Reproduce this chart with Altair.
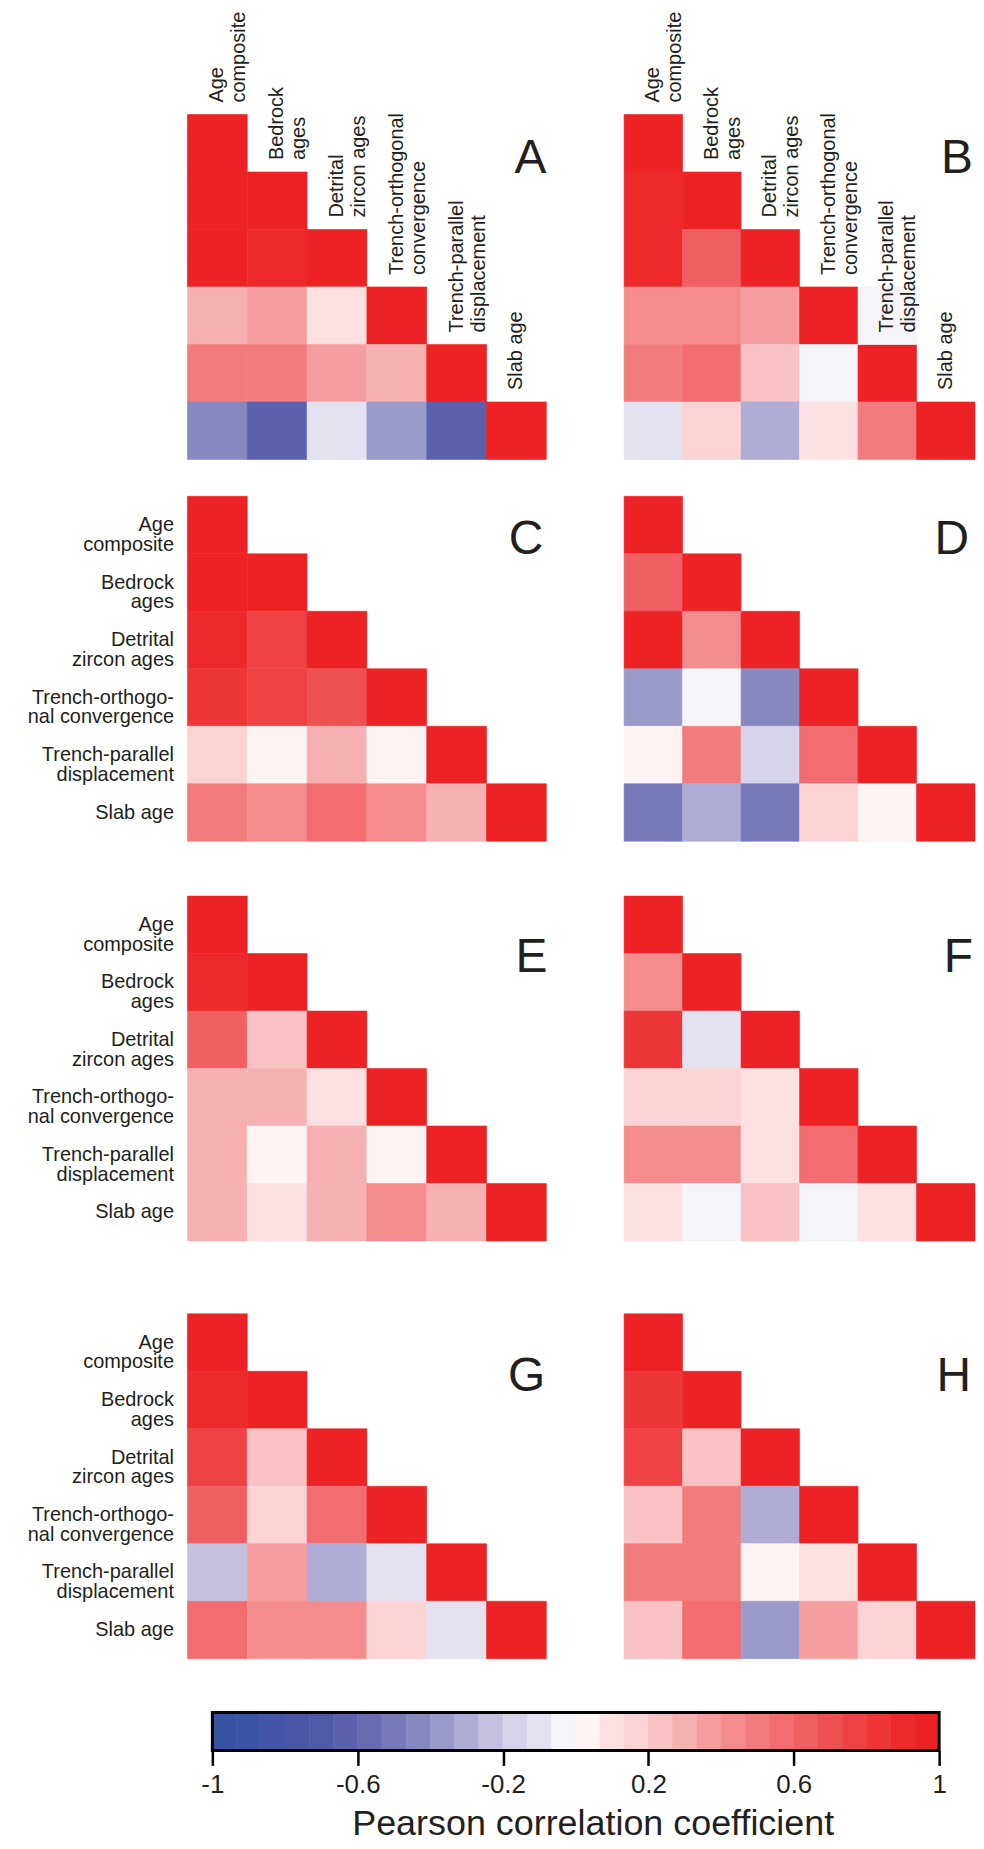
import altair as alt
import numpy as np
import pandas as pd

FONT = "Liberation Sans"
INK = "#231f20"

# ---------------- data ----------------
row_labels = ["Age\ncomposite", "Bedrock\nages", "Detrital\nzircon ages",
              "Trench-orthogo-\nnal convergence", "Trench-parallel\ndisplacement", "Slab age"]
col_labels = ["Age\ncomposite", "Bedrock\nages", "Detrital\nzircon ages",
              "Trench-orthogonal\nconvergence", "Trench-parallel\ndisplacement", "Slab age"]

panel_A = [[1.0],
           [0.97, 1.0],
           [0.97, 0.90, 1.0],
           [0.30, 0.37, 0.10, 1.0],
           [0.50, 0.50, 0.37, 0.30, 1.0],
           [-0.43, -0.63, -0.10, -0.37, -0.63, 1.0]]
panel_B = [[1.0],
           [0.90, 1.0],
           [0.90, 0.63, 1.0],
           [0.43, 0.43, 0.37, 1.0],
           [0.50, 0.57, 0.23, -0.03, 1.0],
           [-0.10, 0.17, -0.30, 0.10, 0.50, 1.0]]
panel_B_extra = [(3, 4, -0.03)]
panel_C = [[1.0],
           [0.97, 1.0],
           [0.90, 0.77, 1.0],
           [0.83, 0.77, 0.70, 1.0],
           [0.17, 0.03, 0.30, 0.03, 1.0],
           [0.50, 0.43, 0.57, 0.43, 0.30, 1.0]]
panel_D = [[1.0],
           [0.63, 1.0],
           [0.97, 0.43, 1.0],
           [-0.37, -0.03, -0.43, 1.0],
           [0.03, 0.50, -0.17, 0.57, 1.0],
           [-0.50, -0.30, -0.50, 0.17, 0.03, 1.0]]
panel_E = [[1.0],
           [0.90, 1.0],
           [0.63, 0.23, 1.0],
           [0.30, 0.30, 0.10, 1.0],
           [0.30, 0.03, 0.30, 0.03, 1.0],
           [0.30, 0.10, 0.30, 0.43, 0.30, 1.0]]
panel_F = [[1.0],
           [0.43, 1.0],
           [0.83, -0.10, 1.0],
           [0.17, 0.17, 0.10, 1.0],
           [0.43, 0.43, 0.10, 0.57, 1.0],
           [0.10, -0.03, 0.23, -0.03, 0.10, 1.0]]
panel_G = [[1.0],
           [0.90, 1.0],
           [0.77, 0.23, 1.0],
           [0.63, 0.17, 0.57, 1.0],
           [-0.23, 0.37, -0.30, -0.10, 1.0],
           [0.57, 0.43, 0.43, 0.17, -0.10, 1.0]]
panel_H = [[1.0],
           [0.83, 1.0],
           [0.77, 0.23, 1.0],
           [0.23, 0.50, -0.30, 1.0],
           [0.50, 0.50, 0.03, 0.10, 1.0],
           [0.23, 0.57, -0.37, 0.37, 0.17, 1.0]]

palette_blue = ["#3953a4", "#3c54a5", "#4255a6", "#4a57a7", "#5159a9", "#5b61ad",
                "#696bb2", "#7879b9", "#8888c1", "#9b9bcb", "#afadd5", "#c3c1df",
                "#d6d4ea", "#e4e2f0", "#f4f4f9"]
palette_red = ["#fef4f3", "#fde0e1", "#fbd3d4", "#f9c2c3", "#f7b0b1", "#f59d9f",
               "#f48c8e", "#f27b7d", "#f16d6f", "#f05f61", "#ef5052", "#ee4244",
               "#ee3537", "#ed292b", "#ed2224"]
palette = palette_blue + palette_red

legend_ticks = [-1, -0.6, -0.2, 0.2, 0.6, 1]
legend_title = "Pearson correlation coefficient"

# ---------------- layout ----------------
WL, WR, H = 360, 352, 346
color_scale = alt.Scale(type="quantize", domain=[-1, 1], range=palette, nice=False)
xscale = alt.Scale(domain=col_labels, paddingInner=0, paddingOuter=0)
yscale = alt.Scale(domain=row_labels, paddingInner=0, paddingOuter=0)


def cells_df(tri, extra=()):
    rows = []
    for i, vals in enumerate(tri):
        for j, v in enumerate(vals):
            rows.append({"r": row_labels[i], "c": col_labels[j], "v": v})
    for i, j, v in extra:
        rows.append({"r": row_labels[i], "c": col_labels[j], "v": v})
    return pd.DataFrame(rows)


def panel(tri, letter, left, headers, letter_x, letter_y, extra=()):
    if left:
        yaxis = alt.Axis(title=None, domain=False, ticks=False, grid=False,
                         labelFont=FONT, labelFontSize=20, labelColor=INK,
                         labelPadding=14, labelLineHeight=20, labelLimit=0,
                         labelAlign="right", labelBaseline="middle",
                         labelExpr="split(datum.label, '\\n')")
    else:
        yaxis = None
    base = alt.Chart(cells_df(tri, extra)).mark_rect(strokeWidth=0.6).encode(
        x=alt.X("c:N", scale=xscale, axis=None),
        y=alt.Y("r:N", scale=yscale, axis=yaxis),
        color=alt.Color("v:Q", scale=color_scale, legend=None),
        stroke=alt.Stroke("v:Q", scale=color_scale, legend=None),
    )
    layers = [base]
    if headers:
        hdf = pd.DataFrame({"c": col_labels, "r": row_labels})
        ht = alt.Chart(hdf).mark_text(
            angle=270, align="left", baseline="middle", dx=12,
            font=FONT, fontSize=20, color=INK, lineBreak="\n", lineHeight=22,
        ).encode(
            x=alt.X("c:N", scale=xscale, axis=None),
            y=alt.Y("r:N", scale=yscale, bandPosition=0, axis=None),
            text="c:N",
        )
        layers.append(ht)
    lt = alt.Chart(pd.DataFrame({"t": [letter]})).mark_text(
        align="right", baseline="alphabetic", font=FONT, fontSize=48, color=INK
    ).encode(text="t:N", x=alt.value(letter_x), y=alt.value(letter_y))
    layers.append(lt)
    return alt.layer(*layers).properties(width=WL if left else WR, height=H)


A = panel(panel_A, "A", True, True, 360, 59)
B = panel(panel_B, "B", False, True, 350, 59, panel_B_extra)
C = panel(panel_C, "C", True, False, 357, 58)
D = panel(panel_D, "D", False, False, 346, 58)
E = panel(panel_E, "E", True, False, 361, 76)
F = panel(panel_F, "F", False, False, 350, 76)
G = panel(panel_G, "G", True, False, 359, 77)
Hh = panel(panel_H, "H", False, False, 348, 77)

# colour bar
edges = np.linspace(-1, 1, len(palette) + 1)
leg_df = pd.DataFrame({"lo": edges[:-1], "hi": edges[1:],
                       "mid": (edges[:-1] + edges[1:]) / 2})
lxs = alt.Scale(domain=[-1, 1], nice=False, zero=False)
bins = alt.Chart(leg_df).mark_rect(strokeWidth=0.6).encode(
    x=alt.X("lo:Q", scale=lxs, axis=alt.Axis(
        values=legend_ticks, title=legend_title, domain=False, grid=False,
        tickColor="black", tickWidth=2.5, tickSize=15,
        labelFont=FONT, labelFontSize=26, labelColor=INK, labelPadding=6,
        labelFlush=False, labelOverlap=False,
        labelExpr="(datum.value < 0 ? '-' : '') + format(abs(datum.value), '~g')",
        titleFont=FONT, titleFontSize=36, titleFontWeight="normal", titleColor=INK,
        titleX=381.5, titleY=84.5, titleAlign="center", titleBaseline="alphabetic")),
    x2="hi:Q",
    color=alt.Color("mid:Q", scale=color_scale, legend=None),
    stroke=alt.Stroke("mid:Q", scale=color_scale, legend=None),
)
border = alt.Chart(pd.DataFrame({"lo": [-1.0], "hi": [1.0]})).mark_rect(
    fillOpacity=0, stroke="black", strokeWidth=3
).encode(x=alt.X("lo:Q", scale=lxs), x2="hi:Q")
colorbar = alt.layer(bins, border).properties(width=729, height=38)

spacer = alt.Chart(pd.DataFrame({"s": [0]})).mark_point(opacity=0).encode(
    x=alt.value(0), y=alt.value(0)).properties(width=13, height=38)

row1 = alt.hconcat(A, B, spacing=76)
row2 = alt.hconcat(C, D, spacing=76)
row3 = alt.hconcat(E, F, spacing=76)
row4 = alt.hconcat(G, Hh, spacing=76)
row5 = alt.hconcat(spacer, colorbar, spacing=0)

chart = alt.vconcat(
    row1,
    alt.vconcat(
        row2,
        alt.vconcat(
            row3,
            alt.vconcat(row4, row5, spacing=50),
            spacing=71),
        spacing=53),
    spacing=35,
).properties(
    padding={"left": 19, "top": 0, "right": 0, "bottom": 0},
    background="white",
).configure_view(strokeWidth=0)

chart.save("out.html", embed_options={"renderer": "svg", "actions": False})
